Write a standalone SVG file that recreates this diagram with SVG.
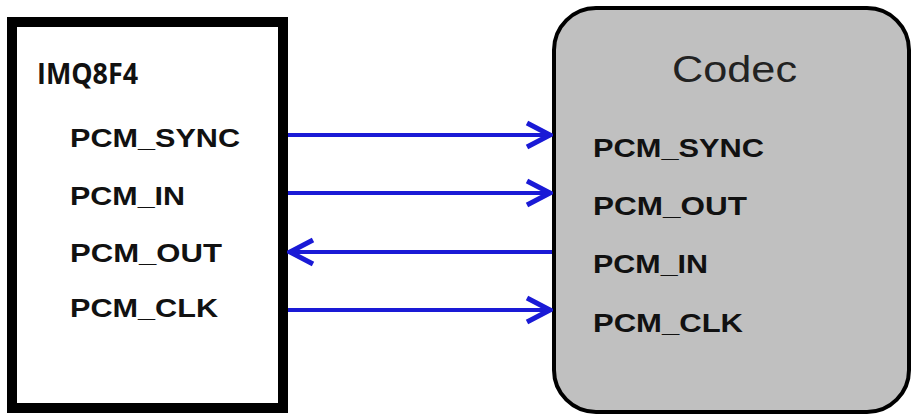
<svg xmlns="http://www.w3.org/2000/svg" width="912" height="416" viewBox="0 0 912 416">
<defs>
<style>
.sig{font-family:"Liberation Sans",Arial,sans-serif;font-weight:bold;font-size:26px;fill:#111}
.wire{stroke:#1a1ad6;stroke-width:4;fill:none}
</style>
<marker id="ah" viewBox="0 0 30 30" refX="27" refY="15" markerWidth="30" markerHeight="30" markerUnits="userSpaceOnUse" orient="auto-start-reverse">
<path d="M4,3 L27,15 L4,27" fill="none" stroke="#1a1ad6" stroke-width="5"/>
</marker>
</defs>
<rect width="912" height="416" fill="#fff"/>
<g id="imq8f4">
<rect x="12" y="22" width="271" height="386" fill="#fff" stroke="#000" stroke-width="10"/>
<text x="37" y="84" font-family="'Open Sans','Noto Sans',sans-serif" font-weight="bold" font-size="28" fill="#111" textLength="101" lengthAdjust="spacingAndGlyphs">IMQ8F4</text>
<text class="sig" x="70" y="147" textLength="170" lengthAdjust="spacingAndGlyphs">PCM_SYNC</text>
<text class="sig" x="70" y="205" textLength="115" lengthAdjust="spacingAndGlyphs">PCM_IN</text>
<text class="sig" x="70" y="262" textLength="152" lengthAdjust="spacingAndGlyphs">PCM_OUT</text>
<text class="sig" x="70" y="317" textLength="148" lengthAdjust="spacingAndGlyphs">PCM_CLK</text>
</g>
<g id="codec">
<rect x="554" y="8" width="355" height="404" rx="42" ry="42" fill="#c0c0c0" stroke="#000" stroke-width="4"/>
<text x="672" y="82" font-family="'Liberation Sans',Arial,sans-serif" font-size="37" fill="#222" textLength="125" lengthAdjust="spacingAndGlyphs">Codec</text>
<text class="sig" x="593" y="157" textLength="171" lengthAdjust="spacingAndGlyphs">PCM_SYNC</text>
<text class="sig" x="593" y="215" textLength="154" lengthAdjust="spacingAndGlyphs">PCM_OUT</text>
<text class="sig" x="593" y="273" textLength="115" lengthAdjust="spacingAndGlyphs">PCM_IN</text>
<text class="sig" x="593" y="332" textLength="150" lengthAdjust="spacingAndGlyphs">PCM_CLK</text>
</g>
<g id="connectors">
<line class="wire" x1="288" y1="135" x2="550" y2="135" marker-end="url(#ah)"/>
<line class="wire" x1="288" y1="193" x2="550" y2="193" marker-end="url(#ah)"/>
<line class="wire" x1="552" y1="252" x2="290" y2="252" marker-end="url(#ah)"/>
<line class="wire" x1="288" y1="310" x2="550" y2="310" marker-end="url(#ah)"/>
</g>
</svg>
